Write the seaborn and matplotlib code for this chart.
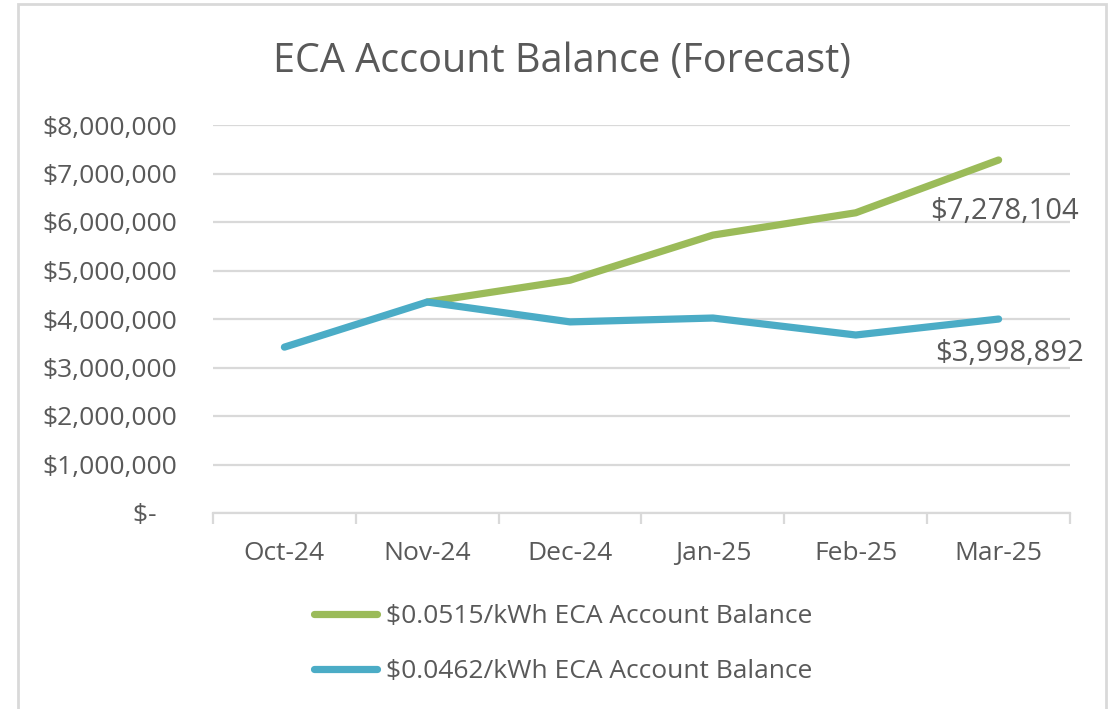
import pandas as pd
import numpy as np
import seaborn as sns
import matplotlib.pyplot as plt
from matplotlib.patches import Rectangle

# chart data
months = ['Oct-24', 'Nov-24', 'Dec-24', 'Jan-25', 'Feb-25', 'Mar-25']
high_rate = [np.nan, 4350000, 4800000, 5730000, 6190000, 7278104]
low_rate = [3420000, 4350000, 3940000, 4020000, 3670000, 3998892]
series_names = ['$0.0515/kWh ECA Account Balance', '$0.0462/kWh ECA Account Balance']
y_ticks = [0, 1000000, 2000000, 3000000, 4000000, 5000000, 6000000, 7000000, 8000000]

sns.set_theme(style='white')
plt.rcParams['font.family'] = ['Open Sans', 'DejaVu Sans']
text_col = '#595959'
grid_col = '#d9d9d9'
palette = {series_names[0]: '#9bbb59', series_names[1]: '#4bacc6'}

df = pd.DataFrame({
    'month': months * 2,
    'balance': high_rate + low_rate,
    'series': [series_names[0]] * len(months) + [series_names[1]] * len(months),
})

fig = plt.figure(figsize=(11.16, 7.09), dpi=100)
ax = fig.add_axes([213 / 1116, 1 - 513 / 709, (1070 - 213) / 1116, (513 - 125) / 709])

# chart frame
fig.patches.append(Rectangle((18 / 1116, -0.01), (1106 - 18) / 1116, 1 - 4 / 709 + 0.01,
                             transform=fig.transFigure, fill=False,
                             edgecolor=grid_col, linewidth=2))

sns.lineplot(data=df, x='month', y='balance', hue='series', palette=palette,
             sort=False, linewidth=5.2, solid_capstyle='round', ax=ax, legend=False)
# blue line on top
for line, z in zip(ax.lines, [3, 4]):
    line.set_zorder(z)

ax.set_xlim(-0.5, len(months) - 0.5)
ax.set_ylim(0, 8000000)
ax.set_yticks(y_ticks)
ax.set_yticklabels(['$-   '] + [f'${v:,.0f}' for v in y_ticks[1:]])
ax.yaxis.grid(True, color=grid_col, linewidth=1.6)
ax.set_axisbelow(True)
ax.set_xlabel('')
ax.set_ylabel('')

for s in ['top', 'right', 'left']:
    ax.spines[s].set_visible(False)
ax.spines['bottom'].set_color(grid_col)
ax.spines['bottom'].set_linewidth(1.6)

ax.set_xticks(np.arange(-0.5, len(months), 1.0), minor=True)
ax.set_xticks(range(len(months)))
ax.set_xticklabels(months)
ax.tick_params(axis='x', which='major', length=0, pad=20, labelsize=19, labelcolor=text_col)
ax.tick_params(axis='x', which='minor', length=8, width=1.6, color=grid_col, direction='out', bottom=True)
ax.tick_params(axis='y', length=0, pad=26, labelsize=19, labelcolor=text_col)

# end-point data labels
ax.annotate(f'${high_rate[-1]:,.0f}', (5, high_rate[-1]), xytext=(80, -51),
            textcoords='offset pixels', ha='right', va='center', fontsize=21, color=text_col)
ax.annotate(f'${low_rate[-1]:,.0f}', (5, low_rate[-1]), xytext=(85, -34),
            textcoords='offset pixels', ha='right', va='center', fontsize=21, color=text_col)

fig.text(562 / 1116, 1 - 62 / 709, 'ECA Account Balance (Forecast)', ha='center', va='center',
         fontsize=28.5, color=text_col)

handles = [plt.Line2D([], [], color=palette[n], linewidth=5.2, solid_capstyle='round') for n in series_names]
fig.legend(handles, series_names, loc='upper left', bbox_to_anchor=(290 / 1116, 1 - 580 / 709),
           frameon=False, fontsize=19, labelcolor=text_col, handlelength=2.4,
           handletextpad=0.35, labelspacing=1.15)

fig.savefig('out.png', dpi=100)
